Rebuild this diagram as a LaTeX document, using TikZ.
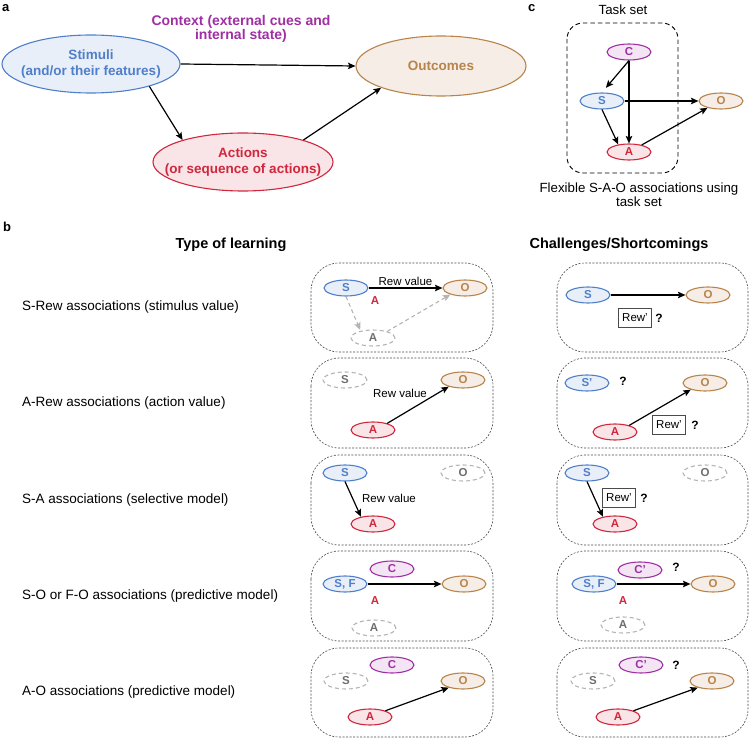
\documentclass[tikz,border=0pt]{standalone}
\usepackage{fontspec}
\setmainfont{Liberation Sans}
\usetikzlibrary{shapes.geometric,arrows.meta,calc}
\definecolor{bS}{HTML}{4F7FCB}
\definecolor{bF}{HTML}{E9EFF8}
\definecolor{rS}{HTML}{D0273D}
\definecolor{rF}{HTML}{F9E4E7}
\definecolor{oS}{HTML}{B8844A}
\definecolor{oF}{HTML}{F5EDE6}
\definecolor{pS}{HTML}{A02FA3}
\definecolor{pF}{HTML}{F3E5F4}
\definecolor{gE}{HTML}{B4B4B4}
\definecolor{gT}{HTML}{6E6E6E}
\definecolor{bx}{HTML}{4A4A4A}
\begin{document}
\begin{tikzpicture}[x=1pt,y=-1pt,
  el/.style={ellipse, line width=1.1pt, inner sep=0pt, minimum width=44pt, minimum height=16pt, font=\bfseries\fontsize{11.5}{12}\selectfont},
  sN/.style={el, draw=bS, fill=bF, text=bS},
  aN/.style={el, draw=rS, fill=rF, text=rS},
  oN/.style={el, draw=oS, fill=oF, text=oS},
  cN/.style={el, draw=pS, fill=pF, text=pS},
  gN/.style={el, draw=gE, fill=white, text=gT, dash pattern=on 4pt off 3pt},
  bigT/.style={align=center, font=\bfseries\fontsize{13.5}{16}\selectfont},
  arr/.style={-{Stealth[length=7.5pt,width=6.5pt,inset=1.5pt]}, line width=1.2pt, black},
  garr/.style={-{Stealth[length=7.5pt,width=6.5pt,inset=1.5pt]}, line width=1.1pt, draw=gE, dash pattern=on 4pt off 3pt},
  frame/.style={draw=bx, line width=0.6pt, dash pattern=on 2pt off 1.5pt, rounded corners=28pt},
  panel/.style={font=\bfseries\fontsize{13}{13}\selectfont, anchor=base west, inner sep=0pt},
  rowT/.style={font=\fontsize{13.5}{15}\selectfont, anchor=west, inner sep=0pt},
  headT/.style={font=\bfseries\fontsize{14.5}{16}\selectfont},
  smallT/.style={font=\fontsize{11.5}{12}\selectfont, inner sep=0pt},
  redA/.style={font=\bfseries\fontsize{11.5}{12}\selectfont, text=rS, inner sep=0pt},
  qT/.style={font=\bfseries\fontsize{12}{12}\selectfont, inner sep=0pt},
  rewB/.style={draw=bx, line width=0.6pt, minimum width=33pt, minimum height=19pt, inner sep=0pt, font=\fontsize{11.5}{12}\selectfont}
]
\useasboundingbox (0,0) rectangle (750,738);

% ---------- panel a ----------
\node[panel] (la) at (2,12) {a};
\node[el, draw=bS, fill=bF, minimum width=178pt, minimum height=58pt,
      label={[bigT, text=bS]center:{Stimuli\\(and/or their features)}}] (stim) at (91,64) {};
\node[el, draw=rS, fill=rF, minimum width=180pt, minimum height=58pt,
      label={[bigT, text=rS]center:{Actions\\(or sequence of actions)}}] (act) at (243,162) {};
\node[el, draw=oS, fill=oF, minimum width=170pt, minimum height=60pt,
      label={[bigT, text=oS]center:{Outcomes}}] (out) at (441,66) {};
\node[align=center, text=pS, font=\bfseries\fontsize{14}{14.5}\selectfont] (ctx) at (241,29) {Context (external cues and\\internal state)};
\draw[arr] (stim.east) -- (out.west);
\draw[arr] (stim.-21) -- (act.160);
\draw[arr] (act.20) -- (out.200);

% ---------- panel c ----------
\node[panel] (lc) at (528,12) {c};
\node[font=\fontsize{13.3}{14}\selectfont] (tsl) at (623,10) {Task set};
\draw[line width=0.9pt, dash pattern=on 4.5pt off 3pt, rounded corners=16pt] (567,23) rectangle (678,173);
\node[cN] (cC) at (629,52) {C};
\node[sN] (cS) at (602,101) {S};
\node[aN] (cA) at (629,152) {A};
\node[oN] (cO) at (721,101) {O};
\draw[arr, shorten >=6pt] (cC.south) -- (cS.north);
\draw[arr] (cC.south) -- (cA.north);
\draw[arr] (cS.east) -- (cO.west);
\draw[arr] (cS.south) -- (cA.145);
\draw[arr] (cA.29) -- (cO.207);
\node[align=center, font=\fontsize{13.3}{14}\selectfont] (capc) at (639,195) {Flexible S-A-O associations using\\task set};

% ---------- panel b ----------
\node[panel] (lb) at (3,232) {b};
\node[headT] (h1) at (231,245) {Type of learning};
\node[headT] (h2) at (619,245) {Challenges/Shortcomings};

\draw[frame] (311,263) rectangle (493,352);
\draw[frame] (557,263) rectangle (748,352);
\draw[frame] (311,358) rectangle (493,448);
\draw[frame] (557,358) rectangle (748,448);
\draw[frame] (311,455) rectangle (493,545);
\draw[frame] (557,455) rectangle (748,545);
\draw[frame] (311,551) rectangle (493,641);
\draw[frame] (557,551) rectangle (748,641);
\draw[frame] (311,648) rectangle (493,737);
\draw[frame] (557,648) rectangle (748,737);

\node[rowT] (r1) at (22,307) {S-Rew associations (stimulus value)};
\node[rowT] (r2) at (22,403) {A-Rew associations (action value)};
\node[rowT] (r3) at (22,500) {S-A associations (selective model)};
\node[rowT] (r4) at (22,596) {S-O or F-O associations (predictive model)};
\node[rowT] (r5) at (22,692) {A-O associations (predictive model)};

% row 1 middle
\node[sN] (m1S) at (346,288) {S};
\node[oN] (m1O) at (465,288) {O};
\node[gN] (m1A) at (373,338) {A};
\draw[arr] (m1S.east) -- (m1O.west) node[midway, above=2pt, smallT] (m1rv) {Rew value};
\node[redA] (m1a) at (375,301) {A};
\draw[garr, shorten >=1pt] (m1S.south) -- (m1A.150);
\draw[garr] (m1A.25) -- (m1O.204);
% row 1 right
\node[sN] (c1S) at (588,295) {S};
\node[oN] (c1O) at (708,295) {O};
\draw[arr] (c1S.east) -- (c1O.west);
\node[rewB] (c1R) at (635,318) {Rew’};
\node[qT] (c1q) at (659,318) {?};

% row 2 middle
\node[gN] (m2S) at (345,380) {S};
\node[oN] (m2O) at (463,380) {O};
\node[aN] (m2A) at (373,430) {A};
\draw[arr] (m2A.25) -- (m2O.205);
\node[smallT] (m2rv) at (400,393) {Rew value};
% row 2 right
\node[sN] (c2S) at (587,383) {S’};
\node[qT] (c2q) at (623,381) {?};
\node[oN] (c2O) at (705,383) {O};
\node[aN] (c2A) at (615,432) {A};
\draw[arr] (c2A.25) -- (c2O.205);
\node[rewB] (c2R) at (669,425) {Rew’};
\node[qT] (c2q2) at (695,425) {?};

% row 3 middle
\node[sN] (m3S) at (345,473) {S};
\node[gN] (m3O) at (463,473) {O};
\node[aN] (m3A) at (373,524) {A};
\draw[arr] (m3S.south) -- (m3A.149);
\node[smallT] (m3rv) at (389,498) {Rew value};
% row 3 right
\node[sN] (c3S) at (587,473) {S};
\node[gN] (c3O) at (705,473) {O};
\node[aN] (c3A) at (615,524) {A};
\draw[arr] (c3S.south) -- (c3A.149);
\node[rewB] (c3R) at (619,498) {Rew’};
\node[qT] (c3q) at (644,498) {?};

% row 4 middle
\node[cN] (m4C) at (392,569) {C};
\node[sN] (m4S) at (345,584) {S, F};
\node[oN] (m4O) at (464,584) {O};
\draw[arr] (m4S.east) -- (m4O.west);
\node[redA] (m4a) at (375,601) {A};
\node[gN] (m4A) at (374,628) {A};
% row 4 right
\node[cN] (c4C) at (640,570) {C’};
\node[qT] (c4q) at (676,567) {?};
\node[sN] (c4S) at (594,584) {S, F};
\node[oN] (c4O) at (713,584) {O};
\draw[arr] (c4S.east) -- (c4O.west);
\node[redA] (c4a) at (623,601) {A};
\node[gN] (c4A) at (623,625) {A};

% row 5 middle
\node[cN] (m5C) at (392,665) {C};
\node[gN] (m5S) at (346,681) {S};
\node[oN] (m5O) at (463,681) {O};
\node[aN] (m5A) at (370,717) {A};
\draw[arr] (m5A.22) -- (m5O.205);
% row 5 right
\node[cN] (c5C) at (641,665) {C’};
\node[qT] (c5q) at (676,665) {?};
\node[gN] (c5S) at (593,681) {S};
\node[oN] (c5O) at (712,681) {O};
\node[aN] (c5A) at (618,717) {A};
\draw[arr] (c5A.22) -- (c5O.205);
\end{tikzpicture}
\end{document}
